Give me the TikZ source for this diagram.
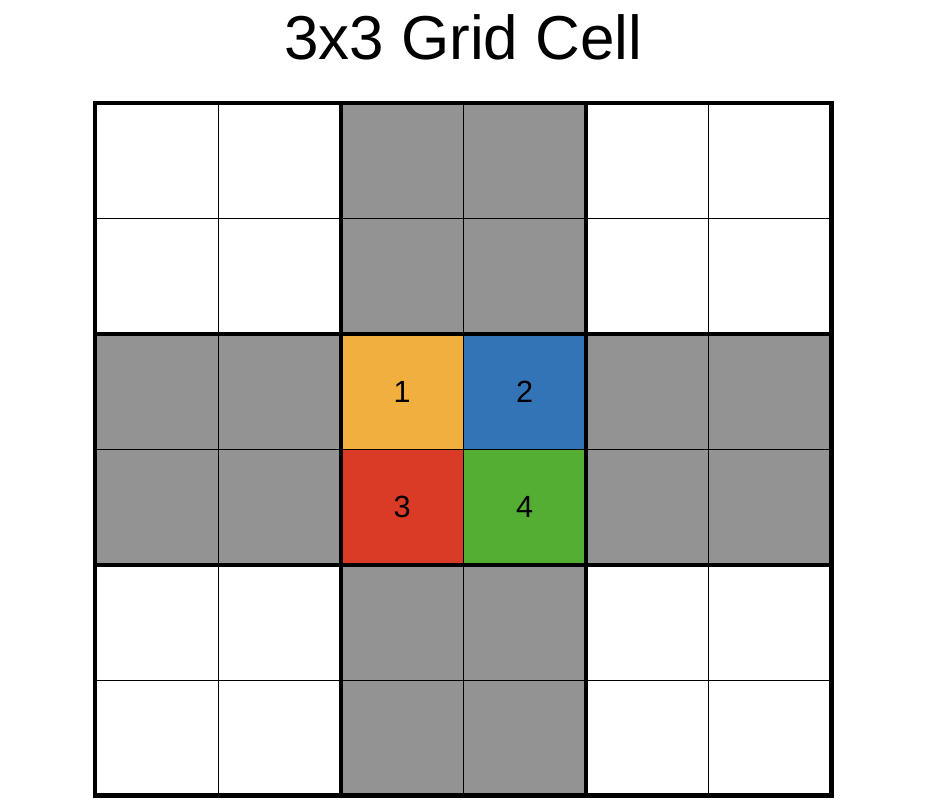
\documentclass[tikz,border=0pt]{standalone}
\usepackage{fontspec}
\setmainfont{Liberation Sans}
\usepackage{tikz}
\definecolor{cellgray}{HTML}{939393}
\definecolor{cellorange}{HTML}{F1B03E}
\definecolor{cellblue}{HTML}{3374B6}
\definecolor{cellred}{HTML}{DA3B26}
\definecolor{cellgreen}{HTML}{54AE33}
\tikzset{
  cellline/.style={draw=black, line width=0.75pt},
  blockline/.style={draw=black, line width=3.2pt},
  numlabel/.style={font=\fontsize{23}{23}\selectfont, inner sep=0pt},
  titlelabel/.style={font=\fontsize{46.5}{46.5}\selectfont, anchor=base, inner sep=0pt}
}
\begin{document}
\begin{tikzpicture}[x=92.025pt, y=86.525pt]
  \path[use as bounding box, fill=white] (-71.475pt,-10.125pt) rectangle (629.025pt,596.625pt);

  % gray blocks
  \fill[cellgray] (2,4) rectangle (4,6);
  \fill[cellgray] (0,2) rectangle (2,4);
  \fill[cellgray] (4,2) rectangle (6,4);
  \fill[cellgray] (2,0) rectangle (4,2);

  % centre block
  \fill[cellorange] (2,3) rectangle (3,4);
  \fill[cellblue] (3,3) rectangle (4,4);
  \fill[cellred] (2,2) rectangle (3,3);
  \fill[cellgreen] (3,2) rectangle (4,3);

  \draw[cellline] (1,0) -- (1,6) (3,0) -- (3,6) (5,0) -- (5,6)
                  (0,1) -- (6,1) (0,3) -- (6,3) (0,5) -- (6,5);
  \draw[blockline] (2,0) -- (2,6) (4,0) -- (4,6) (0,2) -- (6,2) (0,4) -- (6,4);
  \draw[blockline] (0,0) rectangle (6,6);

  \node[numlabel] (num1) at (2.5,3.5) {1};
  \node[numlabel] (num2) at (3.5,3.5) {2};
  \node[numlabel] (num3) at (2.5,2.5) {3};
  \node[numlabel] (num4) at (3.5,2.5) {4};

  \node[titlelabel] (title) at ([yshift=32.5pt]3,6) {3x3 Grid Cell};
\end{tikzpicture}
\end{document}
